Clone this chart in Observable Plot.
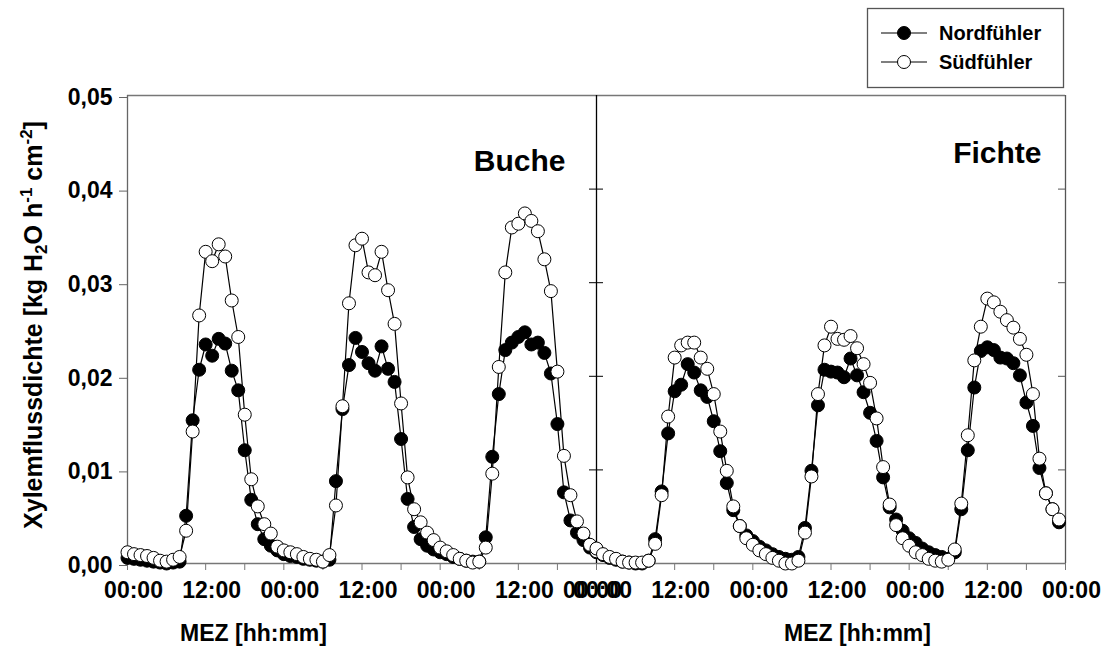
<!DOCTYPE html>
<html>
<head>
<meta charset="utf-8">
<script src="https://cdn.jsdelivr.net/npm/d3@7"></script>
<script src="https://cdn.jsdelivr.net/npm/@observablehq/plot@0.6"></script>
<style>
  body { margin: 0; background: #fff; }
  #chart { width: 1112px; height: 662px; }
</style>
</head>
<body>
<div id="chart"></div>
<script>
// Hourly values, 00:00 of day 1 onward (Buche: 73 values, Fichte: 72 values)
const bucheNord = [
  0.0006, 0.0005, 0.0004, 0.0003, 0.0002, 0.0001, 0.0000, 0.0001, 0.0002, 0.0051,
  0.0153, 0.0207, 0.0234, 0.0222, 0.0240, 0.0235, 0.0206, 0.0185, 0.0121, 0.0068,
  0.0042, 0.0026, 0.0019, 0.0014, 0.0010, 0.0008, 0.0007, 0.0005, 0.0004, 0.0003,
  0.0002, 0.0004, 0.0088, 0.0165, 0.0212, 0.0241, 0.0226, 0.0214, 0.0206, 0.0232,
  0.0208, 0.0194, 0.0133, 0.0069, 0.0039, 0.0026, 0.0019, 0.0015, 0.0012, 0.0010,
  0.0007, 0.0005, 0.0003, 0.0002, 0.0002, 0.0028, 0.0114, 0.0181, 0.0228, 0.0236,
  0.0242, 0.0247, 0.0234, 0.0236, 0.0225, 0.0203, 0.0149, 0.0076, 0.0046, 0.0033,
  0.0025, 0.0017, 0.0012
];
const bucheSued = [
  0.0012, 0.0010, 0.0009, 0.0008, 0.0006, 0.0003, 0.0002, 0.0004, 0.0007, 0.0035,
  0.0141, 0.0265, 0.0333, 0.0323, 0.0341, 0.0328, 0.0281, 0.0242, 0.0159, 0.0090,
  0.0061, 0.0042, 0.0032, 0.0018, 0.0014, 0.0012, 0.0010, 0.0007, 0.0005, 0.0004,
  0.0002, 0.0009, 0.0062, 0.0168, 0.0278, 0.0340, 0.0347, 0.0311, 0.0308, 0.0333,
  0.0292, 0.0256, 0.0171, 0.0092, 0.0058, 0.0044, 0.0033, 0.0025, 0.0017, 0.0013,
  0.0009, 0.0005, 0.0003, 0.0001, 0.0002, 0.0017, 0.0096, 0.0210, 0.0311, 0.0359,
  0.0363, 0.0374, 0.0366, 0.0355, 0.0325, 0.0291, 0.0205, 0.0115, 0.0073, 0.0045,
  0.0032, 0.0020, 0.0013
];
const fichteNord = [
  0.0014, 0.0009, 0.0006, 0.0004, 0.0002, 0.0001, 0.0000, 0.0000, 0.0003, 0.0026,
  0.0077, 0.0139, 0.0184, 0.0191, 0.0213, 0.0204, 0.0185, 0.0178, 0.0152, 0.0120,
  0.0086, 0.0057, 0.0040, 0.0030, 0.0024, 0.0018, 0.0014, 0.0010, 0.0007, 0.0005,
  0.0004, 0.0007, 0.0038, 0.0099, 0.0169, 0.0207, 0.0205, 0.0204, 0.0199, 0.0219,
  0.0201, 0.0183, 0.0161, 0.0131, 0.0092, 0.0060, 0.0047, 0.0035, 0.0027, 0.0022,
  0.0016, 0.0012, 0.0009, 0.0007, 0.0005, 0.0012, 0.0058, 0.0121, 0.0188, 0.0227,
  0.0231, 0.0228, 0.0220, 0.0219, 0.0214, 0.0201, 0.0172, 0.0147, 0.0102, 0.0075,
  0.0058, 0.0044
];
const fichteSued = [
  0.0016, 0.0010, 0.0007, 0.0005, 0.0002, 0.0001, 0.0001, 0.0001, 0.0003, 0.0021,
  0.0073, 0.0157, 0.0220, 0.0233, 0.0236, 0.0236, 0.0220, 0.0208, 0.0181, 0.0141,
  0.0099, 0.0061, 0.0040, 0.0027, 0.0020, 0.0014, 0.0010, 0.0006, 0.0003, 0.0000,
  0.0000, 0.0003, 0.0033, 0.0093, 0.0181, 0.0233, 0.0253, 0.0240, 0.0239, 0.0243,
  0.0230, 0.0213, 0.0193, 0.0155, 0.0103, 0.0063, 0.0041, 0.0027, 0.0019, 0.0012,
  0.0009, 0.0005, 0.0003, 0.0002, 0.0004, 0.0015, 0.0064, 0.0137, 0.0217, 0.0253,
  0.0283, 0.0279, 0.0269, 0.0260, 0.0252, 0.0240, 0.0223, 0.0181, 0.0112, 0.0075,
  0.0058, 0.0047
];

const panels = ["Buche", "Fichte"];
const seriesNames = ["Nordfühler", "Südfühler"];
const yTicks = [0, 0.01, 0.02, 0.03, 0.04, 0.05];
const xTickLabels = ["00:00", "12:00", "00:00", "12:00", "00:00", "12:00", "00:00",
                     "12:00", "00:00", "12:00", "00:00", "12:00", "00:00"];
const xLabelHours = [0, 12, 24, 36, 48, 60, 72, 84, 96, 108, 120, 132, 144];
const xMinorHours = d3.range(0, 145, 6);
const xTitle = "MEZ [hh:mm]";

// tidy rows; Fichte is placed on the second 72-hour half of the shared x scale
function rowsOf(values, panelIdx, series) {
  return values.map((v, i) => ({h: panelIdx * 72 + i, v, panel: panels[panelIdx], series}));
}
const nordRows = [...rowsOf(bucheNord, 0, seriesNames[0]), ...rowsOf(fichteNord, 1, seriesNames[0])];
const suedRows = [...rowsOf(bucheSued, 0, seriesNames[1]), ...rowsOf(fichteSued, 1, seriesNames[1])];

const labelRows = xLabelHours.map((h, i) => ({h, label: xTickLabels[i]}));
const font = "Liberation Sans, Arial, Helvetica, sans-serif";
const tickPx = 7 / ((1065 - 127) / 144); // 7 px expressed in hours

const plot = Plot.plot({
  width: 1112,
  height: 662,
  marginLeft: 127,
  marginRight: 47,
  marginTop: 95,
  marginBottom: 99,
  style: {fontFamily: font, fontWeight: "bold", background: "#fff", color: "#000"},
  x: {type: "linear", domain: [0, 144]},
  y: {type: "linear", domain: [0, 0.05]},
  marks: [
    // frame
    Plot.ruleY([0.05], {stroke: "#777", strokeWidth: 1.3}),
    Plot.ruleY([0], {stroke: "#777", strokeWidth: 1.3}),
    Plot.ruleX([0], {stroke: "#666", strokeWidth: 1.3}),
    Plot.ruleX([144], {stroke: "#555", strokeWidth: 1.3}),
    Plot.ruleX([72], {stroke: "#000", strokeWidth: 1.3}),
    // y axis (left, outward ticks)
    Plot.axisY(yTicks, {
      tickSize: 8, tickPadding: 7, stroke: "#666", fill: "#000",
      tickFormat: d => d.toFixed(2).replace(".", ","),
      fontSize: 23, fontWeight: "bold", label: null, dy: 2
    }),
    // ticks on divider (crossing) and right frame (inward)
    Plot.ruleY(yTicks.slice(1, -1), {x1: 72 - tickPx, x2: 72 + tickPx, stroke: "#000"}),
    Plot.ruleY(yTicks.slice(1, -1), {x1: 144 - tickPx, x2: 144, stroke: "#555"}),
    // x axis ticks every 6 h
    Plot.axisX(xMinorHours, {tickSize: 7, stroke: "#777", tickFormat: () => "", label: null}),
    // x tick labels
    Plot.text(labelRows.filter(d => d.h !== 72), {
      x: "h", text: "label", frameAnchor: "bottom", dy: 34, dx: 6,
      fontSize: 23, fontWeight: "bold", fill: "#000"
    }),
    Plot.text(labelRows.filter(d => d.h === 72), {
      x: "h", text: "label", frameAnchor: "bottom", dy: 34, dx: -4,
      fontSize: 23, fontWeight: "bold", fill: "#000"
    }),
    Plot.text(labelRows.filter(d => d.h === 72), {
      x: "h", text: "label", frameAnchor: "bottom", dy: 34, dx: 6,
      fontSize: 23, fontWeight: "bold", fill: "#000"
    }),
    // axis titles
    Plot.text([xTitle], {frameAnchor: "bottom-left", dx: 126, dy: 77, textAnchor: "middle", fontSize: 23, fontWeight: "bold", fill: "#000"}),
    Plot.text([xTitle], {frameAnchor: "bottom-left", dx: 730, dy: 77, textAnchor: "middle", fontSize: 23, fontWeight: "bold", fill: "#000"}),
    // panel titles
    Plot.text([panels[0]], {frameAnchor: "top-left", dx: 438, dy: 54, textAnchor: "end", fontSize: 30, fontWeight: "bold", fill: "#000"}),
    Plot.text([panels[1]], {frameAnchor: "top-left", dx: 914, dy: 46, textAnchor: "end", fontSize: 30, fontWeight: "bold", fill: "#000"}),
    // data: Nordfühler (filled)
    Plot.line(nordRows, {x: "h", y: "v", z: "panel", stroke: "#000", strokeWidth: 1.2}),
    Plot.dot(nordRows, {x: "h", y: "v", r: 6.5, fill: "#000", stroke: "#000", strokeWidth: 1}),
    // data: Südfühler (open)
    Plot.line(suedRows, {x: "h", y: "v", z: "panel", stroke: "#000", strokeWidth: 1.2}),
    Plot.dot(suedRows, {x: "h", y: "v", r: 6.5, fill: "#fff", stroke: "#000", strokeWidth: 1})
  ]
});

document.getElementById("chart").append(plot);

// legend and rotated y-axis title with sub/superscripts
const svg = d3.select(plot.tagName.toLowerCase() === "svg" ? plot : plot.querySelector("svg"));
const lg = svg.append("g").attr("font-family", font).attr("font-weight", "bold");
lg.append("rect").attr("x", 867.5).attr("y", 8.5).attr("width", 196).attr("height", 79)
  .attr("fill", "#fff").attr("stroke", "#555").attr("stroke-width", 1.3);
[[33, "#000", seriesNames[0]], [62, "#fff", seriesNames[1]]].forEach(([y, fill, name]) => {
  lg.append("line").attr("x1", 881).attr("x2", 927).attr("y1", y).attr("y2", y)
    .attr("stroke", "#000").attr("stroke-width", 1.2);
  lg.append("circle").attr("cx", 904).attr("cy", y).attr("r", 6.5)
    .attr("fill", fill).attr("stroke", "#000").attr("stroke-width", 1);
  lg.append("text").attr("x", 939).attr("y", y).attr("dy", "0.36em")
    .attr("text-anchor", "start").attr("font-size", 20).attr("fill", "#000").text(name);
});

const yl = svg.append("text")
  .attr("transform", "translate(42,325) rotate(-90)")
  .attr("text-anchor", "middle")
  .attr("font-family", font).attr("font-weight", "bold").attr("font-size", 25).attr("fill", "#000");
yl.append("tspan").text("Xylemflussdichte [kg H");
yl.append("tspan").attr("font-size", 17).attr("dy", 5).text("2");
yl.append("tspan").attr("dy", -5).text("O h");
yl.append("tspan").attr("font-size", 17).attr("dy", -10).text("-1");
yl.append("tspan").attr("dy", 10).text(" cm");
yl.append("tspan").attr("font-size", 17).attr("dy", -10).text("-2");
yl.append("tspan").attr("dy", 10).text("]");
</script>
</body>
</html>
